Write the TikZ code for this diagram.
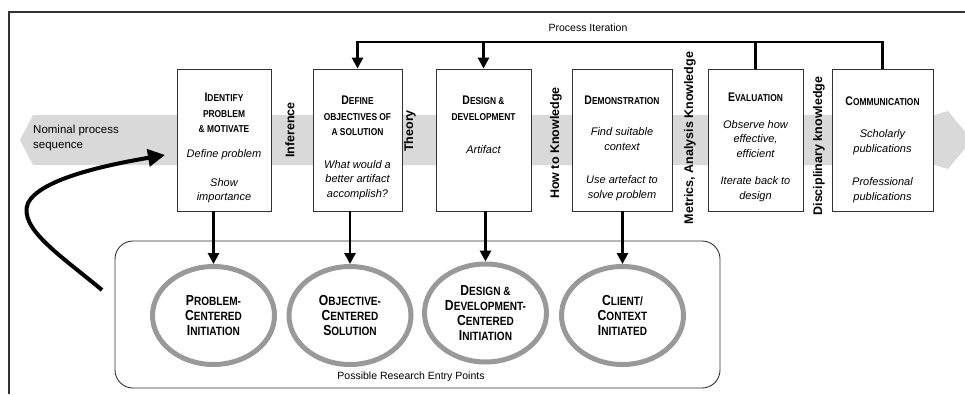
\documentclass[tikz,border=0pt]{standalone}
\usepackage{fontspec}
\setmainfont{Liberation Sans}
\newfontfamily\narrowsf[FakeStretch=0.84]{Liberation Sans}
\usepackage{xcolor}
\usetikzlibrary{positioning,arrows.meta,shapes,calc}

% bigger first letters for the fake small caps
\newcommand{\tcap}[1]{{\fontsize{12.5}{12}\selectfont #1}}
\newcommand{\ecap}[1]{{\fontsize{14.5}{12}\selectfont #1}}

\begin{document}
\begin{tikzpicture}[
    x=1pt, y=-1pt,
    frame/.style    = {draw=black!80, line width=1.2pt},
    band/.style     = {fill=black!15},
    stepbox/.style  = {rectangle, draw=black!80, fill=white, line width=0.9pt,
                       minimum height=142pt, inner sep=0pt},
    head/.style     = {font=\narrowsf\bfseries\fontsize{10}{15.5}\selectfont, align=center,
                       inner sep=0pt},
    body/.style     = {font=\itshape\fontsize{11}{14.5}\selectfont, align=center,
                       inner sep=0pt},
    know/.style     = {font=\bfseries\fontsize{12.5}{13}\selectfont, rotate=90,
                       inner sep=0pt},
    entry/.style    = {ellipse, draw=black!40, line width=5pt, fill=white,
                       minimum width=122pt, minimum height=98pt, inner sep=0pt,
                       align=center, font=\narrowsf\bfseries\fontsize{12}{15}\selectfont},
    pool/.style     = {rectangle, rounded corners=18pt, draw=black!80, line width=0.9pt,
                       minimum width=605pt, minimum height=147pt},
    note/.style     = {font=\fontsize{10.5}{15}\selectfont, inner sep=0pt},
    arr/.style      = {-{Triangle[length=11pt,width=11pt]}, line width=2.8pt},
    iter/.style     = {line width=2.8pt},
    back/.style     = {-{Triangle[length=17pt,width=17pt]}, line width=4pt},
]
\useasboundingbox (0,0) rectangle (965,394);

% =============================== frame and band ===============================
\draw[frame] (965,12) -- (9,12) -- (9,394);
\fill[band] (20,140) -- (33,115) -- (935,115) -- (948,111) -- (972,140)
            -- (948,169) -- (935,165) -- (33,165) -- cycle;
\node[note, anchor=west, align=left, font=\fontsize{11.5}{15.5}\selectfont] (nom)
     at (33,138) {Nominal process\\sequence};

% =============================== process steps ================================
\foreach \i/\cx/\w in {1/224/94, 2/357.5/89, 3/483.5/95,
                       4/622/100, 5/755.5/95, 6/882.5/101} {
    \node[stepbox, minimum width=\w pt] (B\i) at (\cx,140) {};
}

\node[head] (H1) at (224,113)   {\tcap{I}DENTIFY\\PROBLEM\\\& MOTIVATE};
\node[body] (T1) at (224,176)   {Define problem\\[14.5pt]Show\\importance};

\node[head] (H2) at (357.5,116) {\tcap{D}EFINE\\OBJECTIVES OF\\A SOLUTION};
\node[body] (T2) at (357.5,180) {What would a\\better artifact\\accomplish?};

\node[head] (H3) at (483.5,108) {\tcap{D}ESIGN \&\\DEVELOPMENT};
\node[body] (T3) at (483.5,150) {Artifact};

\node[head] (H4) at (622,100)   {\tcap{D}EMONSTRATION};
\node[body] (T4) at (622,164)   {Find suitable\\context\\[19pt]Use artefact to\\solve problem};

\node[head] (H5) at (755.5,97)  {\tcap{E}VALUATION};
\node[body] (T5) at (755.5,161) {Observe how\\effective,\\efficient\\[13pt]Iterate back to\\design};

\node[head] (H6) at (882.5,101) {\tcap{C}OMMUNICATION};
\node[body] (T6) at (882.5,166) {Scholarly\\publications\\[19pt]Professional\\publications};

% knowledge between the steps
\node[know] (K1) at (290,130) {Inference};
\node[know] (K2) at (410,131) {Theory};
\node[know] (K3) at (556,143) {How to Knowledge};
\node[know] (K4) at (690,138) {Metrics, Analysis Knowledge};
\node[know] (K5) at (819,146) {Disciplinary knowledge};

% =============================== process iteration ============================
\coordinate (iter) at (600,42);
\node[note] (PI) at (588,28) {Process Iteration};
\draw[arr] (B6.north) -- (B6.north |- iter) -- (B2.north |- iter) -- (B2.north);
\draw[arr] (B3.north |- iter) -- (B3.north);
\draw[iter] (B5.north |- iter) -- (B5.north);

% =============================== entry points =================================
\node[pool] (P) at (417.5,314.5) {};
\node[note, font=\fontsize{10.5}{11}\selectfont] (PL) at (411,377)
     {Possible Research Entry Points};

\node[entry] (E1) at (213.5,315.5) {\ecap{P}ROBLEM-\\\ecap{C}ENTERED\\\ecap{I}NITIATION};
\node[entry] (E2) at (350,315.5)   {\ecap{O}BJECTIVE-\\\ecap{C}ENTERED\\\ecap{S}OLUTION};
\node[entry] (E3) at (485.5,313)   {\ecap{D}ESIGN \&\\\ecap{D}EVELOPMENT-\\\ecap{C}ENTERED\\\ecap{I}NITIATION};
\node[entry] (E4) at (622.5,315.5) {\ecap{C}LIENT/\\\ecap{C}ONTEXT\\\ecap{I}NITIATED};

\foreach \i in {1,...,4} {
    \draw[arr] (E\i.north |- B\i.south) -- (E\i.north);
}

% loop back into the process
\coordinate (out) at (102,290);
\coordinate (in)  at (165,155);
\draw[back] (out) .. controls (60,255) and (18,228) .. (28,203)
                  .. controls (40,180) and (100,166) .. (in);

\end{tikzpicture}
\end{document}
